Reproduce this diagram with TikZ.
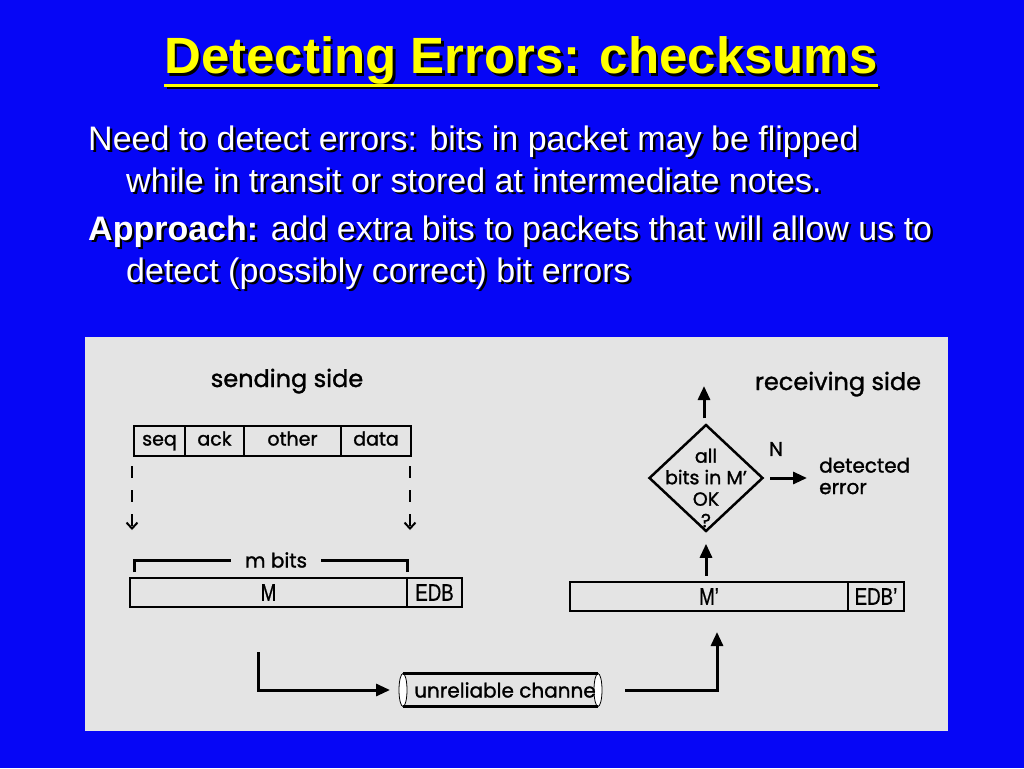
\documentclass[tikz,border=0pt]{standalone}
\usepackage{fontspec}
\setmainfont{Liberation Sans}
\newfontfamily\diagfont{Poppins}[FakeBold=1.3]
\newfontfamily\narrowfont{Liberation Sans}[FakeStretch=0.78, FakeBold=0.6]
\usetikzlibrary{arrows.meta, positioning, shapes.geometric, calc}
\definecolor{slideblue}{RGB}{6,6,246}
\definecolor{titleyellow}{RGB}{255,255,0}
\definecolor{panelgray}{RGB}{228,228,228}
\tikzset{
  titletext/.style={font=\bfseries\fontsize{51}{58}\selectfont, text=titleyellow, inner sep=0, anchor=base},
  bodytext/.style={font=\fontsize{34}{40}\selectfont, text=white, anchor=base west, inner sep=0},
  textshadow/.style={text=black, xshift=2.5pt, yshift=-2.5pt},
  caption/.style={font=\diagfont\fontsize{24}{28}\selectfont, inner sep=0, anchor=base},
  field/.style={draw, line width=2pt, minimum height=30pt, inner sep=0, outer sep=0,
    text height=13pt, text depth=4pt, font=\diagfont\fontsize{19}{22}\selectfont},
  msgbox/.style={draw, line width=2.5pt, minimum height=29pt, inner sep=0, outer sep=0,
    font=\narrowfont\fontsize{24}{26}\selectfont},
  decision/.style={diamond, draw, line width=2.5pt, minimum width=114pt,
    minimum height=107pt, inner sep=0},
  smalltext/.style={font=\diagfont\fontsize{20}{21.5}\selectfont, inner sep=0},
  flow/.style={-{Triangle[length=14pt,width=12pt]}, line width=3pt},
  dashflow/.style={-{Straight Barb[length=6pt,width=11pt]}, line width=2pt,
    dash pattern=on 12pt off 12pt},
  bracket/.style={line width=3pt},
  pipe/.style={line width=2.5pt}
}
% one line of slide text with its shadow
\newcommand\slideline[3]{%
  \node[bodytext, textshadow] at (#2) {#3};
  \node[bodytext] (#1) at (#2) {#3};}

\begin{document}
\begin{tikzpicture}[x=1pt, y=-1pt]
\fill[slideblue] (0,0) rectangle (1024,768);
\useasboundingbox (0,0) rectangle (1024,768);

% title
\node[titletext, textshadow] at (521,74) {Detecting Errors: checksums};
\node[titletext] (title) at (521,74) {Detecting Errors: checksums};
\draw[line width=3pt, black] ([shift={(2.5pt,-13.5pt)}]title.base west) -- ([shift={(2.5pt,-13.5pt)}]title.base east);
\draw[line width=3pt, titleyellow] ([yshift=-11pt]title.base west) -- ([yshift=-11pt]title.base east);

% bullets
\slideline{need}{88,150}{Need to detect errors: bits in packet may be flipped}
\slideline{transit}{126,192}{while in transit or stored at intermediate notes.}
\slideline{approach}{88,240}{\textbf{Approach:} add extra bits to packets that will allow us to}
\slideline{detect}{126,282}{detect (possibly correct) bit errors}

% figure panel
\fill[panelgray] (85,337) rectangle (948,731);

% sending side
\node[caption] (send) at (287,387) {sending side};
\node[field, minimum width=51pt, anchor=west] (seq) at (134,441) {seq};
\node[field, minimum width=59pt, right=0pt of seq] (ack) {ack};
\node[field, minimum width=97pt, right=0pt of ack] (other) {other};
\node[field, minimum width=70pt, right=0pt of other] (data) {data};

\node[msgbox, minimum width=277pt, anchor=west] (msg) at (130,592.5) {M};
\node[msgbox, minimum width=55pt, right=0pt of msg] (edb) {EDB};

\draw[dashflow] ([shift={(-2pt,-10pt)}]seq.south west) -- ++(0,64);
\draw[dashflow] ([shift={(-1pt,-10pt)}]data.south east) -- ++(0,64);

\node[smalltext, inner xsep=14pt] (mbits) at (276,560) {m bits};
\draw[bracket] ([shift={(4pt,6pt)}]msg.north west) |- (mbits.west);
\draw[bracket] ([yshift=6pt]msg.north east) |- (mbits.east);

% channel
\draw[line width=0.8pt, fill=white] (403,690) ellipse (4 and 16.5);
\draw[line width=0.8pt, fill=white] (598,690) ellipse (4 and 16.5);
\node[smalltext, minimum width=196pt, minimum height=33pt] (chan) at (505,690) {unreliable channe};
\draw[pipe] (403,673.5) -- (598,673.5) (403,706.5) -- (598,706.5);

\draw[flow] ([shift={(-10pt,-45pt)}]msg.south) |- (390,690);

% receiving side
\node[caption] (recv) at (838,390) {receiving side};
\node[msgbox, minimum width=278pt, anchor=west] (rmsg) at (570,596.5) {M’};
\node[msgbox, minimum width=56pt, right=0pt of rmsg] (redb) {EDB’};

\draw[flow] (625,690) -| ([shift={(8pt,-21pt)}]rmsg.south);

\node[decision] (check) at (706,478) {};
\node[smalltext, align=center, font=\diagfont\fontsize{19}{21.5}\selectfont] (question) at (706,488) {all\\bits in M’\\OK\\?};
\draw[flow] ([yshift=-43pt]check.south) -- ([yshift=-11pt]check.south);

\coordinate (pass) at (704,386);
\draw[flow] ([shift={(-2pt,5pt)}]check.north) -- (pass);

\node[smalltext] (no) at (776,449) {N};
\node[smalltext, align=left, anchor=west] (deterr) at (819,476) {detected\\error};
\draw[flow] ([xshift=6pt]check.east) -- ([xshift=-12pt]deterr.west |- check.east);
\end{tikzpicture}
\end{document}
